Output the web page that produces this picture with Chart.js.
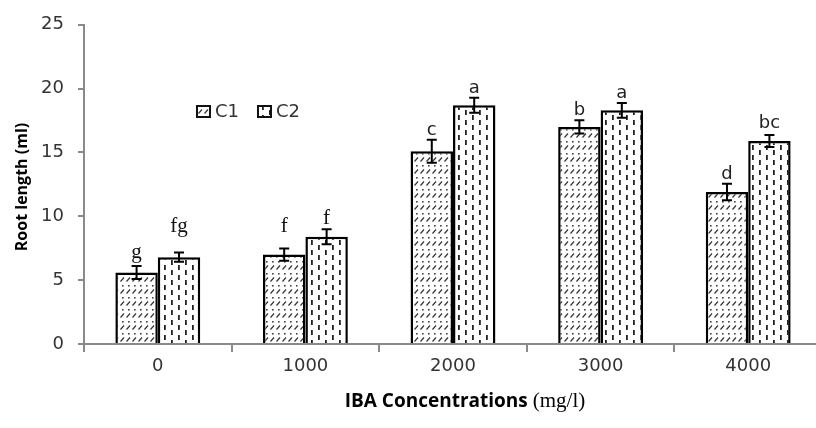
<!DOCTYPE html>
<html>
<head>
<meta charset="utf-8">
<script src="https://cdn.jsdelivr.net/npm/chart.js@4.4.1/dist/chart.umd.min.js"></script>
<style>
  html, body { margin: 0; padding: 0; background: #fff; overflow: hidden; width: 816px; height: 428px; }
  #wrap { position: absolute; left: 0; top: 0; width: 826px; height: 428px; }
</style>
</head>
<body>
<div id="wrap"><canvas id="c" width="826" height="428"></canvas></div>
<script>
// ---- data ----
const categories = ['0', '1000', '2000', '3000', '4000'];
const seriesNames = ['C1', 'C2'];
const c1Values = [5.6, 7.0, 15.1, 17.0, 11.9];
const c2Values = [6.8, 8.4, 18.7, 18.3, 15.9];
const c1Errors = [0.5, 0.48, 0.9, 0.52, 0.65];
const c2Errors = [0.36, 0.58, 0.58, 0.58, 0.47];
const c1Letters = ['g', 'f', 'c', 'b', 'd'];
const c2Letters = ['fg', 'f', 'a', 'a', 'bc'];
const yTicks = [0, 5, 10, 15, 20, 25];
const yTitle = 'Root length (ml)';
const xTitleMain = 'IBA Concentrations';
const xTitleUnit = '(mg/l)';

// ---- styles (not data) ----
const serifLetters = { 'g': true, 'fg': true, 'f': true };
const c1Lift = [0, 11, 0, 0, 0];
const c2Lift = [13, 0, 0, 0, 2];

function makeC1Pattern() {
  const p = document.createElement('canvas');
  p.width = 6; p.height = 12;
  const g = p.getContext('2d');
  g.fillStyle = '#fff'; g.fillRect(0, 0, 6, 12);
  g.strokeStyle = '#333'; g.lineWidth = 1.2;
  g.beginPath(); g.moveTo(0.5, 5.5); g.lineTo(4, 1.5); g.stroke();
  g.fillStyle = '#444';
  g.fillRect(2, 9, 1.6, 1.6);
  return g.createPattern(p, 'repeat');
}
function makeC2Pattern() {
  const p = document.createElement('canvas');
  p.width = 14; p.height = 10;
  const g = p.getContext('2d');
  g.fillStyle = '#fff'; g.fillRect(0, 0, 14, 10);
  g.fillStyle = '#222';
  g.fillRect(3, 0, 1.8, 5);
  g.fillRect(10, 5, 1.8, 5);
  return g.createPattern(p, 'repeat');
}
const pat1 = makeC1Pattern();
const pat2 = makeC2Pattern();

const errorsBySeries = [c1Errors, c2Errors];
const lettersBySeries = [c1Letters, c2Letters];
const liftBySeries = [c1Lift, c2Lift];

const overlayPlugin = {
  id: 'overlay',
  afterDatasetsDraw(chart) {
    const ctx = chart.ctx;
    const y = chart.scales.y;
    ctx.save();
    chart.data.datasets.forEach((ds, i) => {
      const meta = chart.getDatasetMeta(i);
      meta.data.forEach((bar, j) => {
        const v = ds.data[j];
        const e = errorsBySeries[i][j];
        const x = bar.x;
        const yTop = y.getPixelForValue(v + e);
        const yBot = y.getPixelForValue(v - e);
        ctx.strokeStyle = '#000';
        ctx.lineWidth = 2;
        ctx.beginPath();
        ctx.moveTo(x, yTop); ctx.lineTo(x, yBot);
        ctx.moveTo(x - 5, yTop); ctx.lineTo(x + 5, yTop);
        ctx.moveTo(x - 5, yBot); ctx.lineTo(x + 5, yBot);
        ctx.stroke();
        const lab = lettersBySeries[i][j];
        const serif = !!serifLetters[lab];
        ctx.fillStyle = serif ? '#111' : '#222';
        ctx.font = serif ? '21px "Liberation Serif"' : '18px "DejaVu Sans"';
        ctx.textAlign = 'center';
        ctx.textBaseline = 'alphabetic';
        const off = /g/.test(lab) ? 8 : 5;
        ctx.fillText(lab, x, yTop - off - liftBySeries[i][j]);
      });
    });
    ctx.restore();
  },
  afterDraw(chart) {
    const ctx = chart.ctx;
    ctx.save();
    // legend
    const pats = [pat1, pat2];
    const lx = [197, 258];
    seriesNames.forEach((name, i) => {
      ctx.fillStyle = pats[i];
      ctx.fillRect(lx[i], 106, 13, 11);
      ctx.strokeStyle = '#111';
      ctx.lineWidth = 2;
      ctx.strokeRect(lx[i], 106, 13, 11);
      ctx.fillStyle = '#333';
      ctx.font = '18px "DejaVu Sans"';
      ctx.textAlign = 'left';
      ctx.textBaseline = 'middle';
      ctx.fillText(name, lx[i] + 18, 112);
    });
    // y title
    ctx.save();
    ctx.translate(22, 187);
    ctx.rotate(-Math.PI / 2);
    ctx.fillStyle = '#000';
    ctx.font = 'bold 16px "Open Sans"';
    ctx.textAlign = 'center';
    ctx.textBaseline = 'middle';
    ctx.fillText(yTitle, 0, 0);
    ctx.restore();
    // x title
    ctx.font = 'bold 19px "Open Sans"';
    const w1 = ctx.measureText(xTitleMain + ' ').width;
    ctx.font = '21px "Liberation Serif"';
    const w2 = ctx.measureText(xTitleUnit).width;
    const startX = 465 - (w1 + w2) / 2;
    ctx.textAlign = 'left';
    ctx.textBaseline = 'alphabetic';
    ctx.fillStyle = '#000';
    ctx.font = 'bold 19px "Open Sans"';
    ctx.fillText(xTitleMain + ' ', startX, 407);
    ctx.font = '21px "Liberation Serif"';
    ctx.fillText(xTitleUnit, startX + w1, 407);
    ctx.restore();
  }
};

new Chart(document.getElementById('c'), {
  type: 'bar',
  data: {
    labels: categories,
    datasets: [
      { label: seriesNames[0], data: c1Values, backgroundColor: pat1, borderColor: '#000', borderWidth: 2.5, borderSkipped: 'bottom' },
      { label: seriesNames[1], data: c2Values, backgroundColor: pat2, borderColor: '#000', borderWidth: 2.5, borderSkipped: 'bottom' }
    ]
  },
  options: {
    responsive: false,
    animation: false,
    devicePixelRatio: 1,
    layout: { padding: { left: 0, top: 23, right: 4, bottom: 0 } },
    plugins: { legend: { display: false }, tooltip: { enabled: false }, title: { display: false } },
    datasets: { bar: { categoryPercentage: 0.575, barPercentage: 1.0 } },
    scales: {
      x: {
        grid: { display: true, drawOnChartArea: false, color: '#8a8a8a', lineWidth: 2, tickLength: 8, offset: true },
        border: { display: true, color: '#8a8a8a', width: 2 },
        ticks: { color: '#333', font: { family: 'DejaVu Sans', size: 18 }, padding: 4 },
        afterFit(scale) { scale.height = 84; }
      },
      y: {
        min: 0, max: 25,
        afterBuildTicks(scale) { scale.ticks = yTicks.map(v => ({ value: v })); },
        grid: { display: true, drawOnChartArea: false, color: '#8a8a8a', lineWidth: 2, tickLength: 6 },
        border: { display: true, color: '#8a8a8a', width: 2 },
        ticks: { color: '#333', font: { family: 'DejaVu Sans', size: 18 }, padding: 14 },
        afterFit(scale) { scale.width = 84; }
      }
    }
  },
  plugins: [overlayPlugin]
});
</script>
</body>
</html>
